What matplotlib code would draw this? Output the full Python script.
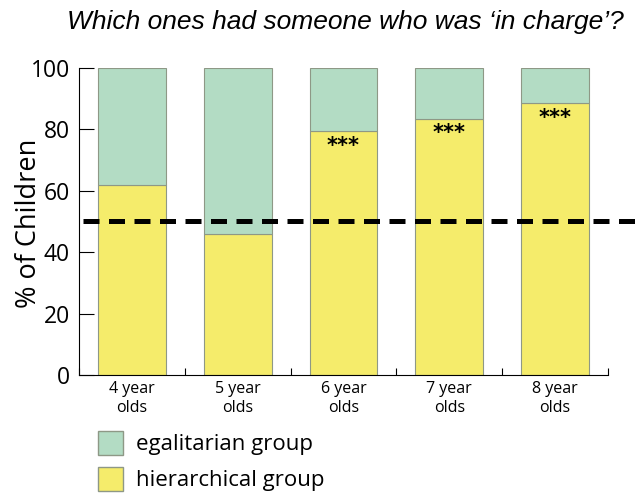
import matplotlib
matplotlib.use("Agg")
import matplotlib.pyplot as plt
from matplotlib.patches import Patch
import matplotlib.transforms as mtransforms

categories = ["4 year\nolds", "5 year\nolds", "6 year\nolds", "7 year\nolds", "8 year\nolds"]
hierarchical = [62, 46, 79.5, 83.5, 88.5]
egalitarian = [100 - v for v in hierarchical]
significance = ["", "", "***", "***", "***"]
chance_level = 50
yticks = [0, 20, 40, 60, 80, 100]

green = "#b3dcc4"
yellow = "#f5ec6b"
edge = "#8e9886"

plt.rcParams['font.family'] = ['Open Sans', 'DejaVu Sans']

fig = plt.figure(figsize=(6.37, 4.98), dpi=100)
ax = fig.add_axes([79/637, 1-375/498, (608-79)/637, (375-68)/498])

x = list(range(len(categories)))
ax.bar(x, hierarchical, width=0.64, color=yellow, edgecolor=edge, linewidth=0.8)
ax.bar(x, egalitarian, bottom=hierarchical, width=0.64, color=green, edgecolor=edge, linewidth=0.8)

for xi, v, s in zip(x, hierarchical, significance):
    if s:
        ax.text(xi, v - 1.5, s, ha='center', va='top', fontsize=15, fontweight='bold', family='DejaVu Sans')

trans = mtransforms.blended_transform_factory(fig.transFigure, ax.transData)
ax.plot([83/637, 1.0], [chance_level, chance_level], transform=trans, color='black',
        lw=3.6, dashes=(3.2, 1.9), clip_on=False, zorder=5)

ax.set_xlim(-0.5, 4.5)
ax.set_ylim(0, 100)
ax.set_yticks(yticks)
ax.set_yticklabels([str(t) for t in yticks], fontsize=16.5)
ax.set_xticks(x)
ax.set_xticklabels(categories, fontsize=11.5, linespacing=1.25)
ax.tick_params(axis='x', which='major', length=0, pad=4)
ax.set_xticks([i + 0.5 for i in range(-1, len(categories))], minor=True)
ax.tick_params(axis='x', which='minor', direction='in', length=5, width=0.8)
ax.tick_params(axis='y', direction='in', length=11, width=0.8, pad=6.5)
for sp in ['top', 'right']:
    ax.spines[sp].set_visible(False)
for sp in ['left', 'bottom']:
    ax.spines[sp].set_linewidth(0.8)
ax.set_ylabel("% of Children", fontsize=19.5)
ax.yaxis.set_label_coords((43 - 79) / 529, (375 - 223) / 307)

fig.text(345/637, 1-22/498, "Which ones had someone who was \u2018in charge\u2019?",
         ha='center', va='center', fontsize=19, style='italic', family='Liberation Sans')

handles = [Patch(facecolor=green, edgecolor=edge, label="egalitarian group"),
           Patch(facecolor=yellow, edgecolor=edge, label="hierarchical group")]
fig.legend(handles=handles, loc='upper left', bbox_to_anchor=(78/637, 1-411/498),
           frameon=False, fontsize=16, handlelength=1.12, handleheight=1.25,
           handletextpad=0.6, labelspacing=0.54)

fig.savefig("out.png", dpi=100)
